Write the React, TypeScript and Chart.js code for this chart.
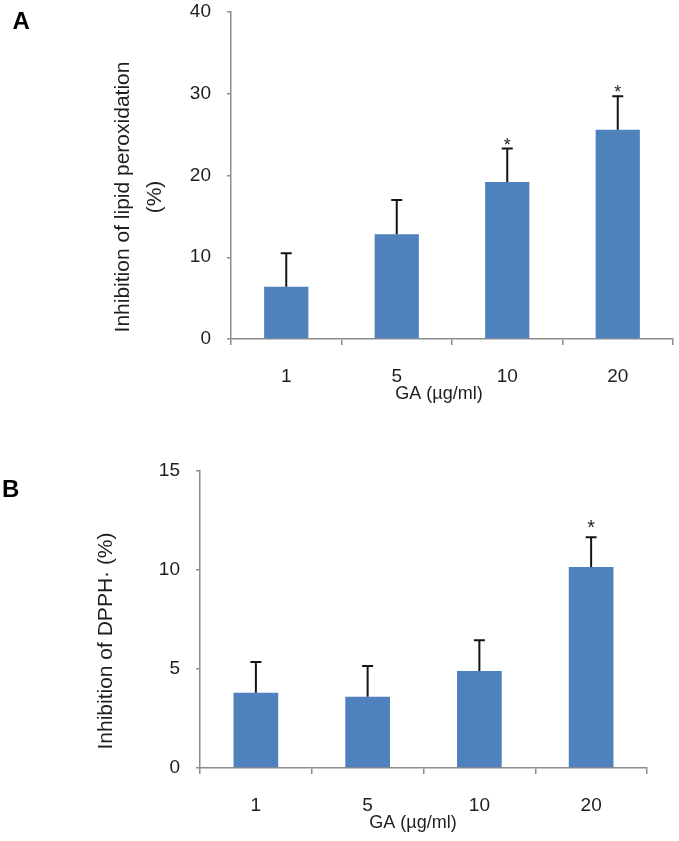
import React, { useEffect, useRef } from "react";
import { Chart, registerables } from "chart.js";

Chart.register(...registerables);

// ---- Data ----
const categories = ["1", "5", "10", "20"];

const lipidMeans = [6.4, 12.8, 19.2, 25.6];
const lipidErrors = [4.1, 4.2, 4.1, 4.1];
const lipidSignificant = [false, false, true, true];
const lipidTickMin = 0;
const lipidTickMax = 40;
const lipidTickStep = 10;

const dpphMeans = [3.8, 3.6, 4.9, 10.15];
const dpphErrors = [1.55, 1.55, 1.55, 1.5];
const dpphSignificant = [false, false, false, true];
const dpphTickMin = 0;
const dpphTickMax = 15;
const dpphTickStep = 5;

const xTitle = "GA (µg/ml)";
const lipidYTitle = ["Inhibition of lipid peroxidation", "(%)"];
const dpphYTitle = ["Inhibition of DPPH· (%)"];

// ---- Styles ----
const FONT = "'Liberation Sans', Arial, sans-serif";
const BAR_COLOR = "#4F81BD";
const AXIS_GRAY = "#8c8c8c";
const TEXT_COLOR = "#1e1e1e";

type PanelCfg = {
  label: string;
  labelX: number;
  labelY: number;
  means: number[];
  errors: number[];
  significant: boolean[];
  min: number;
  max: number;
  step: number;
  yTitle: string[];
  yTitleX: number;
  yTitleY: number;
  xTitleX: number;
  xTitleGap: number;
  starSize: number;
  starOffset: number;
  height: number;
  top: number;
  padTop: number;
  padRight: number;
  yAxisWidth: number;
  xAxisHeight: number;
};

function makeAnnotations(cfg: PanelCfg) {
  return {
    id: "annotations",
    afterDatasetsDraw(chart: any) {
      const ctx = chart.ctx as CanvasRenderingContext2D;
      const yScale = chart.scales.y;
      const meta = chart.getDatasetMeta(0);
      ctx.save();
      cfg.errors.forEach((err, i) => {
        const el = meta.data[i];
        if (!el) return;
        const cx = el.x;
        const base = yScale.getPixelForValue(cfg.means[i]);
        const top = yScale.getPixelForValue(cfg.means[i] + err);
        ctx.strokeStyle = "#141414";
        ctx.lineWidth = 2;
        ctx.beginPath();
        ctx.moveTo(cx, base);
        ctx.lineTo(cx, top);
        ctx.moveTo(cx - 5.5, top);
        ctx.lineTo(cx + 5.5, top);
        ctx.stroke();
        if (cfg.significant[i]) {
          ctx.fillStyle = TEXT_COLOR;
          ctx.font = `${cfg.starSize}px ${FONT}`;
          ctx.textAlign = "center";
          ctx.textBaseline = "alphabetic";
          ctx.fillText("*", cx, top + cfg.starOffset);
        }
      });
      ctx.restore();
    },
    afterDraw(chart: any) {
      const ctx = chart.ctx as CanvasRenderingContext2D;
      const area = chart.chartArea;
      ctx.save();
      ctx.fillStyle = TEXT_COLOR;
      // y title
      ctx.font = `21px ${FONT}`;
      ctx.translate(cfg.yTitleX, cfg.yTitleY);
      ctx.rotate(-Math.PI / 2);
      ctx.textAlign = "center";
      ctx.textBaseline = "middle";
      cfg.yTitle.forEach((line, i) => ctx.fillText(line, 0, i * 32));
      ctx.setTransform(1, 0, 0, 1, 0, 0);
      // x title
      ctx.font = `18px ${FONT}`;
      ctx.textAlign = "center";
      ctx.textBaseline = "middle";
      ctx.fillText(xTitle, cfg.xTitleX, area.bottom + cfg.xTitleGap);
      // panel letter
      ctx.font = `bold 24px ${FONT}`;
      ctx.fillStyle = "#000";
      ctx.textAlign = "left";
      ctx.textBaseline = "alphabetic";
      ctx.fillText(cfg.label, cfg.labelX, cfg.labelY);
      ctx.restore();
    },
  };
}

function Panel({ cfg }: { cfg: PanelCfg }) {
  const ref = useRef<HTMLCanvasElement>(null);
  useEffect(() => {
    if (!ref.current) return;
    const chart = new Chart(ref.current, {
      type: "bar",
      data: {
        labels: categories,
        datasets: [
          {
            data: cfg.means,
            backgroundColor: BAR_COLOR,
            borderWidth: 0,
            barPercentage: 0.4,
            categoryPercentage: 1,
          },
        ],
      },
      options: {
        responsive: false,
        animation: false,
        devicePixelRatio: 1,
        layout: {
          padding: { top: cfg.padTop, right: cfg.padRight, left: 0, bottom: 0 },
        },
        plugins: {
          legend: { display: false },
          tooltip: { enabled: false },
          title: { display: false },
        },
        scales: {
          x: {
            type: "category",
            offset: true,
            grid: {
              offset: true,
              drawOnChartArea: false,
              drawTicks: true,
              tickLength: 6,
              color: AXIS_GRAY,
              lineWidth: 1.5,
            },
            border: { display: true, color: AXIS_GRAY, width: 1.5 },
            ticks: {
              font: { family: FONT, size: 19 },
              color: TEXT_COLOR,
              padding: 20,
              maxRotation: 0,
              autoSkip: false,
            },
            afterFit: (s: any) => {
              s.height = cfg.xAxisHeight;
              s.paddingLeft = 0;
              s.paddingRight = 0;
            },
          },
          y: {
            min: cfg.min,
            max: cfg.max,
            ticks: {
              stepSize: cfg.step,
              font: { family: FONT, size: 19 },
              color: TEXT_COLOR,
              padding: 16,
            },
            grid: {
              drawOnChartArea: false,
              drawTicks: true,
              tickLength: 4,
              color: AXIS_GRAY,
              lineWidth: 1.5,
            },
            border: { display: true, color: AXIS_GRAY, width: 1.5 },
            afterFit: (s: any) => {
              s.width = cfg.yAxisWidth;
              s.paddingTop = 0;
              s.paddingBottom = 0;
            },
          },
        },
      },
      plugins: [makeAnnotations(cfg)],
    } as any);
    return () => chart.destroy();
  }, [cfg]);
  return (
    <div style={{ position: "absolute", left: 0, top: cfg.top, width: 679, height: cfg.height }}>
      <canvas
        ref={ref}
        width={679}
        height={cfg.height}
        style={{ display: "block", width: 679, height: cfg.height }}
      />
    </div>
  );
}

const panelA: PanelCfg = {
  label: "A",
  labelX: 12.5,
  labelY: 29,
  means: lipidMeans,
  errors: lipidErrors,
  significant: lipidSignificant,
  min: lipidTickMin,
  max: lipidTickMax,
  step: lipidTickStep,
  yTitle: lipidYTitle,
  yTitleX: 123,
  yTitleY: 197,
  xTitleX: 439,
  xTitleGap: 55,
  starSize: 18,
  starOffset: 2,
  height: 420,
  top: 0,
  padTop: 12,
  padRight: 6,
  yAxisWidth: 231,
  xAxisHeight: 81,
};

const panelB: PanelCfg = {
  label: "B",
  labelX: 2,
  labelY: 77,
  means: dpphMeans,
  errors: dpphErrors,
  significant: dpphSignificant,
  min: dpphTickMin,
  max: dpphTickMax,
  step: dpphTickStep,
  yTitle: dpphYTitle,
  yTitleX: 106,
  yTitleY: 221,
  xTitleX: 413,
  xTitleGap: 55,
  starSize: 20,
  starOffset: -3,
  height: 421,
  top: 420,
  padTop: 51,
  padRight: 32,
  yAxisWidth: 200,
  xAxisHeight: 73,
};

export default function App() {
  return (
    <div
      style={{
        position: "absolute",
        left: 0,
        top: 0,
        width: 679,
        height: 841,
        background: "#ffffff",
        overflow: "hidden",
      }}
    >
      <Panel cfg={panelA} />
      <Panel cfg={panelB} />
    </div>
  );
}
